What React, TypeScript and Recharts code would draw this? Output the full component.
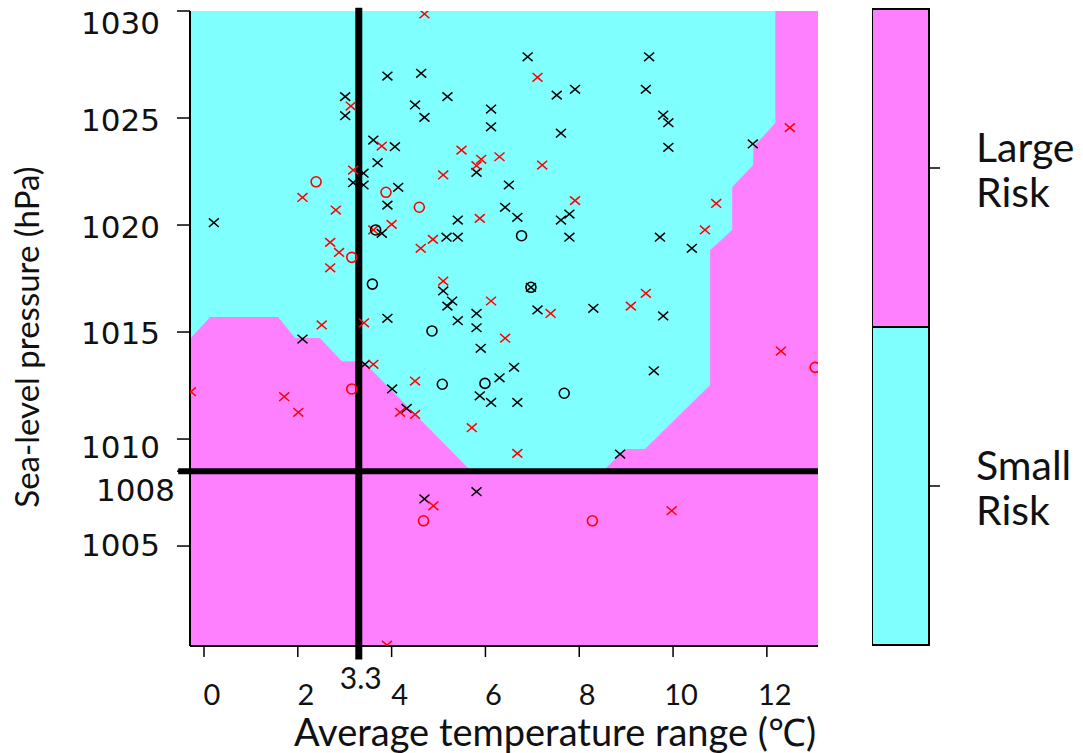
import React from 'react';
import { ComposedChart, Area, Scatter, XAxis, YAxis, ReferenceLine, BarChart, Bar } from 'recharts';

// ---- axes ----
const xMin = -0.2985;
const xMax = 13.09;
const yMin = 1000.33;
const yMax = 1030;
const xTicks = [0, 2, 3.3, 4, 6, 8, 10, 12];
const yTicks = [1005, 1008.5, 1010, 1015, 1020, 1025, 1030];
const tempThreshold = 3.3;
const pressureThreshold = 1008.5;

// ---- decision region (Small Risk area, lower boundary) ----
const regionX = [-0.3, 0.13, 1.58, 1.94, 2.47, 2.94, 3.39, 5.65, 8.55, 8.98, 9.4, 10.79, 10.79, 11.26, 11.26, 11.71, 11.71, 12.18, 12.18];
const regionLow = [1014.67, 1015.7, 1015.7, 1014.72, 1014.72, 1013.64, 1013.64, 1008.6, 1008.6, 1009.53, 1009.53, 1012.52, 1018.83, 1019.77, 1021.78, 1022.8, 1023.64, 1024.77, 1030];
const regionTop = 1030;

// ---- observations ----
const blackCross = [
  [3.91, 1026.96], [3.01, 1026.0], [3.01, 1025.11], [3.61, 1023.97], [4.07, 1023.66], [3.7, 1022.91],
  [3.4, 1022.42], [3.18, 1021.98], [3.4, 1021.87], [4.14, 1021.76], [3.91, 1020.93], [0.21, 1020.11],
  [3.79, 1019.61], [3.91, 1015.64], [6.9, 1027.86], [4.63, 1027.09], [5.19, 1026.0], [7.52, 1026.07],
  [7.91, 1026.34], [4.5, 1025.61], [4.7, 1025.03], [6.12, 1025.42], [6.12, 1024.59], [7.61, 1024.29],
  [5.81, 1022.46], [6.5, 1021.87], [5.41, 1020.23], [6.42, 1020.83], [6.68, 1020.36], [7.61, 1020.23],
  [7.79, 1020.51], [5.17, 1019.43], [5.41, 1019.43], [7.79, 1019.43], [5.1, 1016.92], [5.29, 1016.45],
  [5.19, 1016.21], [5.41, 1015.53], [5.81, 1015.87], [5.81, 1015.2], [6.97, 1017.09], [7.11, 1016.03],
  [8.3, 1016.11], [9.49, 1027.86], [9.42, 1026.34], [9.79, 1025.14], [9.9, 1024.78], [9.9, 1023.63],
  [11.7, 1023.79], [9.72, 1019.43], [10.4, 1018.91], [9.79, 1015.75], [2.1, 1014.67], [3.43, 1013.49],
  [4.01, 1012.34], [5.9, 1014.24], [6.61, 1013.35], [6.3, 1012.86], [5.88, 1012.02], [6.12, 1011.71],
  [6.68, 1011.71], [4.32, 1011.43], [4.7, 1007.2], [5.81, 1007.54], [9.59, 1013.19], [8.87, 1009.3],
];
const redCross = [
  [3.13, 1025.56], [3.79, 1023.69], [3.18, 1022.57], [2.1, 1021.29], [2.81, 1020.7], [3.61, 1019.77],
  [4.0, 1020.03], [2.69, 1019.19], [2.88, 1018.72], [2.69, 1018.0], [2.51, 1015.33], [3.41, 1015.43],
  [4.7, 1029.86], [7.11, 1026.9], [5.49, 1023.5], [5.91, 1023.07], [5.81, 1022.77], [6.3, 1023.19],
  [7.21, 1022.8], [5.1, 1022.34], [5.88, 1020.31], [7.91, 1021.14], [4.88, 1019.33], [4.62, 1018.91],
  [5.1, 1017.38], [6.12, 1016.45], [7.39, 1015.87], [12.49, 1024.55], [10.92, 1021.01], [10.68, 1019.77],
  [9.42, 1016.81], [9.1, 1016.21], [3.61, 1013.49], [-0.28, 1012.21], [1.71, 1011.98], [2.01, 1011.25],
  [4.18, 1011.25], [4.5, 1011.15], [3.9, 1000.37], [6.42, 1014.71], [4.5, 1012.71], [5.71, 1010.53],
  [6.68, 1009.33], [4.89, 1006.88], [12.3, 1014.11], [9.97, 1006.65],
];
const blackRing = [
  [3.66, 1019.77], [3.59, 1017.24], [6.77, 1019.5], [6.97, 1017.09], [4.86, 1015.05], [5.08, 1012.56],
  [5.99, 1012.6], [7.68, 1012.14],
];
const redRing = [
  [2.39, 1022.02], [3.88, 1021.53], [4.59, 1020.83], [3.15, 1018.49], [3.15, 1012.34], [4.68, 1006.18],
  [8.28, 1006.18], [13.03, 1013.35],
];

// ---- legend ----
const riskLevels = ['Small Risk', 'Large Risk'];
const riskData = [{ name: 'risk', small: 1, large: 1 }];

const CYAN = '#80FFFF';
const MAGENTA = '#FF80FF';

const toPoints = (arr: number[][]) => arr.map(([x, y]) => ({ x, y }));
const regionData = regionX.map((x, i) => ({ x, r: [regionLow[i], regionTop] }));
const fullData = [
  { x: xMin, r: [yMin, yMax] },
  { x: xMax, r: [yMin, yMax] },
];

const Cross = ({ cx, cy, color }: any) => (
  <path
    d={`M${cx - 5},${cy - 4.3}L${cx + 5},${cy + 4.3}M${cx - 5},${cy + 4.3}L${cx + 5},${cy - 4.3}`}
    stroke={color}
    strokeWidth={1.5}
    fill="none"
  />
);
const Ring = ({ cx, cy, color }: any) => (
  <circle cx={cx} cy={cy} r={5} stroke={color} strokeWidth={1.6} fill="none" />
);

const XTick = (props: any) => {
  const { x, y, payload } = props;
  const special = payload.value === tempThreshold;
  return (
    <text
      x={x + (special ? 2 : 8)}
      y={y + (special ? 20 : 36)}
      textAnchor="middle"
      dominantBaseline="central"
      fontFamily="Lato"
      fontSize={special ? 30 : 29}
      fill="#111"
    >
      {special ? '3.3' : payload.value}
    </text>
  );
};

const yLabelShift: Record<string, number> = { '1030': 12, '1025': 2, '1020': 2, '1015': 1, '1010': 8, '1008.5': 19, '1005': -1 };

const YTick = (props: any) => {
  const { x, y, payload } = props;
  const v = payload.value;
  const special = v === pressureThreshold;
  return (
    <text
      x={x - (special ? 2 : 17)}
      y={y + (yLabelShift[String(v)] ?? 0)}
      textAnchor="end"
      dominantBaseline="central"
      fontFamily="DejaVu Sans"
      fontSize={31}
      fill="#111"
    >
      {Math.floor(v)}
    </text>
  );
};

const RiskTick = (props: any) => {
  const { x, y, index } = props;
  const words = riskLevels[index].split(' ');
  return (
    <text x={x + 36} fontFamily="Lato" fontSize={41} fill="#111">
      <tspan x={x + 36} y={y - 6}>{words[0]}</tspan>
      <tspan x={x + 36} y={y + 39}>{words[1]}</tspan>
    </text>
  );
};

export default function App() {
  return (
    <div style={{ position: 'absolute', left: 0, top: 0, width: 1083, height: 753, background: '#fff', overflow: 'hidden' }}>
      <div style={{ position: 'absolute', left: 0, top: 0 }}>
        <ComposedChart width={860} height={753} margin={{ top: 11, right: 42, bottom: 0, left: 0 }}>
          <XAxis
            xAxisId={0}
            dataKey="x"
            type="number"
            domain={[xMin, xMax]}
            allowDataOverflow
            ticks={xTicks}
            interval={0}
            tick={<XTick />}
            tickSize={11}
            tickMargin={0}
            height={107}
            axisLine={{ stroke: '#000', strokeWidth: 2 }}
            tickLine={{ stroke: '#000', strokeWidth: 1.5 }}
          />
          <XAxis
            xAxisId="top"
            orientation="top"
            type="number"
            domain={[xMin, xMax]}
            allowDataOverflow
            height={0}
            tick={false}
            tickLine={false}
            axisLine={{ stroke: '#000', strokeWidth: 2 }}
          />
          <YAxis
            yAxisId={0}
            dataKey="y"
            type="number"
            domain={[yMin, yMax]}
            allowDataOverflow
            ticks={yTicks}
            interval={0}
            tick={<YTick />}
            width={190}
            tickSize={13}
            tickMargin={0}
            axisLine={{ stroke: '#000', strokeWidth: 2 }}
            tickLine={{ stroke: '#000', strokeWidth: 1.5 }}
          />
          <YAxis
            yAxisId="right"
            orientation="right"
            type="number"
            domain={[yMin, yMax]}
            allowDataOverflow
            width={0}
            tick={false}
            tickLine={false}
            axisLine={{ stroke: '#000', strokeWidth: 2 }}
          />
          <Area
            data={fullData}
            dataKey="r"
            type="linear"
            stroke="none"
            fill={MAGENTA}
            fillOpacity={1}
            isAnimationActive={false}
            dot={false}
            activeDot={false}
          />
          <Area
            data={regionData}
            dataKey="r"
            type="linear"
            stroke="none"
            fill={CYAN}
            fillOpacity={1}
            isAnimationActive={false}
            dot={false}
            activeDot={false}
          />
          <Scatter data={toPoints(blackCross)} isAnimationActive={false} shape={(p: any) => <Cross cx={p.cx} cy={p.cy} color="#000" />} />
          <Scatter data={toPoints(redCross)} isAnimationActive={false} shape={(p: any) => <Cross cx={p.cx} cy={p.cy} color="#FF0000" />} />
          <Scatter data={toPoints(blackRing)} isAnimationActive={false} shape={(p: any) => <Ring cx={p.cx} cy={p.cy} color="#000" />} />
          <Scatter data={toPoints(redRing)} isAnimationActive={false} shape={(p: any) => <Ring cx={p.cx} cy={p.cy} color="#FF0000" />} />
          <ReferenceLine
            segment={[{ x: tempThreshold, y: 1030.15 }, { x: tempThreshold, y: 999.7 }]}
            stroke="#000"
            strokeWidth={7}
            ifOverflow="visible"
          />
          <ReferenceLine
            segment={[{ x: -0.55, y: pressureThreshold }, { x: xMax, y: pressureThreshold }]}
            stroke="#000"
            strokeWidth={6}
            ifOverflow="visible"
          />
        </ComposedChart>
      </div>
      <div style={{ position: 'absolute', left: 872, top: 0 }}>
        <BarChart width={211} height={753} data={riskData} margin={{ top: 9, right: 0, left: 0, bottom: 108 }} barCategoryGap={0}>
          <XAxis dataKey="name" hide />
          <YAxis
            orientation="right"
            type="number"
            domain={[0, 2]}
            ticks={[0.5, 1.5]}
            width={154}
            tickSize={11}
            tickMargin={0}
            axisLine={false}
            tickLine={{ stroke: '#000', strokeWidth: 1.5 }}
            tick={<RiskTick />}
          />
          <Bar dataKey="small" stackId="a" fill={CYAN} stroke="#000" strokeWidth={2} isAnimationActive={false} />
          <Bar dataKey="large" stackId="a" fill={MAGENTA} stroke="#000" strokeWidth={2} isAnimationActive={false} />
        </BarChart>
      </div>
      <svg width={1083} height={753} style={{ position: 'absolute', left: 0, top: 0, pointerEvents: 'none' }}>
        <text x={555} y={746} textAnchor="middle" fontFamily="Lato" fontSize={38} fill="#111">
          Average temperature range (℃)
        </text>
        <text transform="translate(39,337) rotate(-90)" textAnchor="middle" fontFamily="Lato" fontSize={33} fill="#111">
          Sea-level pressure (hPa)
        </text>
      </svg>
    </div>
  );
}
